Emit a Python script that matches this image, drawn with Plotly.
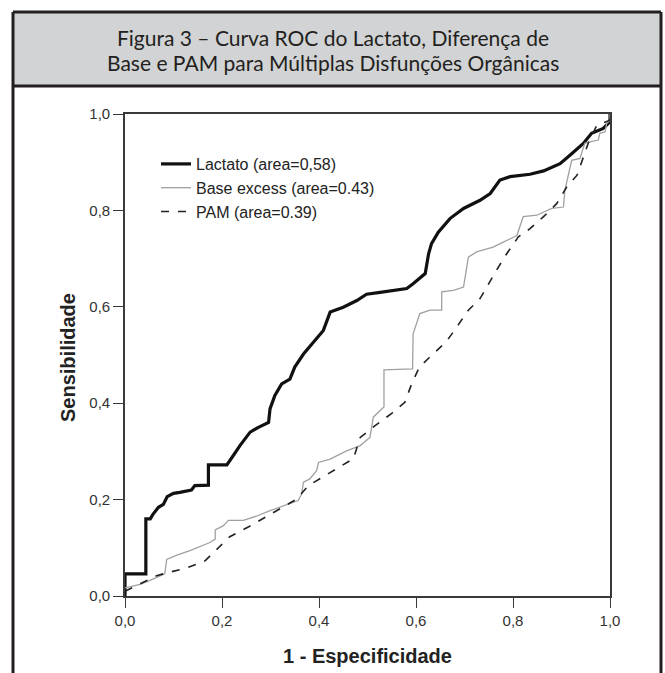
import plotly.graph_objects as go

# ---------------- data ----------------
lact_x = [0, 0, 0.043, 0.043, 0.052, 0.058, 0.069, 0.079, 0.087, 0.10, 0.113, 0.137, 0.144,
          0.172, 0.172, 0.21, 0.223, 0.237, 0.258, 0.275, 0.296, 0.299, 0.309, 0.323, 0.34,
          0.35, 0.368, 0.385, 0.409, 0.423, 0.45, 0.478, 0.498, 0.526, 0.581, 0.594, 0.619,
          0.626, 0.632, 0.646, 0.67, 0.698, 0.732, 0.753, 0.773, 0.794, 0.835, 0.863, 0.897,
          0.918, 0.945, 0.962, 0.986, 1.0, 1.0]
lact_y = [0, 0.046, 0.046, 0.16, 0.16, 0.17, 0.184, 0.19, 0.206, 0.213, 0.215, 0.22, 0.229,
          0.23, 0.272, 0.272, 0.291, 0.312, 0.34, 0.35, 0.36, 0.388, 0.416, 0.44, 0.45,
          0.475, 0.502, 0.523, 0.551, 0.589, 0.599, 0.613, 0.626, 0.63, 0.638, 0.648, 0.669,
          0.71, 0.731, 0.755, 0.783, 0.804, 0.821, 0.835, 0.863, 0.87, 0.875, 0.882, 0.897,
          0.915, 0.939, 0.96, 0.97, 0.984, 1.0]

base_x = [0, 0.017, 0.031, 0.048, 0.065, 0.082, 0.086, 0.107, 0.134, 0.155, 0.175, 0.186,
          0.186, 0.203, 0.213, 0.244, 0.272, 0.299, 0.326, 0.357, 0.364, 0.368, 0.381, 0.395,
          0.399, 0.423, 0.457, 0.485, 0.505, 0.512, 0.526, 0.534, 0.534, 0.593, 0.594, 0.608,
          0.629, 0.653, 0.653, 0.677, 0.698, 0.705, 0.708, 0.725, 0.759, 0.78, 0.808, 0.821,
          0.849, 0.88, 0.904, 0.907, 0.914, 0.921, 0.938, 0.948, 0.959, 0.976, 0.979, 0.99,
          0.993, 1.0, 1.0]
base_y = [0.017, 0.021, 0.024, 0.031, 0.038, 0.046, 0.076, 0.085, 0.094, 0.102, 0.111, 0.118,
          0.137, 0.146, 0.157, 0.157, 0.166, 0.177, 0.187, 0.198, 0.211, 0.236, 0.243, 0.26,
          0.277, 0.284, 0.301, 0.312, 0.329, 0.371, 0.385, 0.392, 0.469, 0.471, 0.544, 0.586,
          0.593, 0.593, 0.631, 0.634, 0.641, 0.683, 0.703, 0.714, 0.724, 0.734, 0.748, 0.787,
          0.79, 0.804, 0.807, 0.842, 0.87, 0.904, 0.908, 0.939, 0.942, 0.946, 0.96, 0.963,
          0.98, 0.987, 1.0]

pam_x = [0, 0.03, 0.065, 0.086, 0.127, 0.165, 0.189, 0.216, 0.254, 0.289, 0.323, 0.354,
         0.378, 0.412, 0.443, 0.471, 0.485, 0.515, 0.55, 0.577, 0.591, 0.607, 0.634, 0.662,
         0.684, 0.708, 0.732, 0.749, 0.766, 0.787, 0.811, 0.835, 0.863, 0.89, 0.911, 0.932,
         0.945, 0.956, 0.973, 1.0, 1.0]
pam_y = [0.01, 0.025, 0.042, 0.048, 0.058, 0.073, 0.097, 0.123, 0.143, 0.163, 0.184, 0.201,
         0.229, 0.249, 0.267, 0.285, 0.329, 0.353, 0.379, 0.402, 0.44, 0.475, 0.501, 0.527,
         0.558, 0.593, 0.617, 0.648, 0.676, 0.71, 0.745, 0.762, 0.787, 0.814, 0.849, 0.873,
         0.908, 0.942, 0.977, 0.987, 1.0]

names = ["Lactato (area=0,58)", "Base excess (area=0.43)", "PAM (area=0.39)"]
tick_vals = [0, 0.2, 0.4, 0.6, 0.8, 1.0]
tick_text = ["0,0", "0,2", "0,4", "0,6", "0,8", "1,0"]
title_lines = ["Figura 3 – Curva ROC do Lactato, Diferença de",
               "Base e PAM para Múltiplas Disfunções Orgânicas"]
x_title = "1 - Especificidade"
y_title = "Sensibilidade"

# ---------------- layout geometry ----------------
W, H = 665, 673
X0, X1 = 125, 610   # pixel x of data 0 and 1
Y0, Y1 = 596, 114   # pixel y of data 0 and 1


def px(x):
    return (x - X0) / (X1 - X0)


def py(y):
    return (Y0 - y) / (Y0 - Y1)


DARK = "#231f20"
AX = "#3a3a3a"

fig = go.Figure()
fig.add_trace(go.Scatter(x=lact_x, y=lact_y, mode="lines", name=names[0],
                         line=dict(color="#111111", width=3.2)))
fig.add_trace(go.Scatter(x=base_x, y=base_y, mode="lines", name=names[1],
                         line=dict(color="#a0a0a0", width=1.3)))
fig.add_trace(go.Scatter(x=pam_x, y=pam_y, mode="lines", name=names[2],
                         line=dict(color="#222222", width=1.6, dash="8px,9px")))

shapes = [
    dict(type="rect", xref="paper", yref="paper", x0=px(13), x1=px(661), y0=py(12), y1=py(86),
         fillcolor="#d1d3d4", line=dict(width=0), layer="below"),
    dict(type="line", xref="paper", yref="paper", x0=px(13), x1=px(661), y0=py(12), y1=py(12),
         line=dict(color=DARK, width=3)),
    dict(type="line", xref="paper", yref="paper", x0=px(13), x1=px(661), y0=py(86), y1=py(86),
         line=dict(color=DARK, width=3)),
    dict(type="line", xref="paper", yref="paper", x0=px(13), x1=px(13), y0=py(12), y1=py(680),
         line=dict(color=DARK, width=3)),
    dict(type="line", xref="paper", yref="paper", x0=px(661), x1=px(661), y0=py(12), y1=py(680),
         line=dict(color=DARK, width=3)),
]

annotations = [
    dict(text=title_lines[0], xref="paper", yref="paper", x=px(333), y=py(38),
         showarrow=False, font=dict(family="Lato", size=21, color=DARK),
         xanchor="center", yanchor="middle"),
    dict(text=title_lines[1], xref="paper", yref="paper", x=px(333), y=py(63),
         showarrow=False, font=dict(family="Lato", size=21, color=DARK),
         xanchor="center", yanchor="middle"),
    dict(text="<b>" + x_title + "</b>", xref="paper", yref="paper", x=px(367), y=py(656),
         showarrow=False, font=dict(family="Liberation Sans, Arial", size=20, color="#222"),
         xanchor="center", yanchor="middle"),
    dict(text="<b>" + y_title + "</b>", xref="paper", yref="paper", x=px(68), y=py(358),
         showarrow=False, textangle=-90,
         font=dict(family="Liberation Sans, Arial", size=20, color="#222"),
         xanchor="center", yanchor="middle"),
]

axis_common = dict(range=[0, 1], tickvals=tick_vals, ticktext=tick_text, showgrid=False,
                   zeroline=False, showline=True, linecolor=AX, linewidth=1.6, mirror=True,
                   ticks="outside", ticklen=10, tickwidth=1.4, tickcolor=AX,
                   tickfont=dict(family="Liberation Sans, Arial", size=15, color="#333"))

fig.update_layout(
    width=W, height=H,
    margin=dict(l=X0, r=W - X1, t=Y1, b=H - Y0, pad=0),
    paper_bgcolor="white", plot_bgcolor="white",
    xaxis=dict(**axis_common),
    yaxis=dict(**axis_common),
    shapes=shapes,
    annotations=annotations,
    showlegend=True,
    legend=dict(x=px(156), y=py(147), xanchor="left", yanchor="top",
                bgcolor="rgba(0,0,0,0)", borderwidth=0, tracegroupgap=0,
                font=dict(family="Liberation Sans, Arial", size=16, color="#222"),
                itemwidth=30),
)

fig.write_html("out.html", config={"displayModeBar": False},
               post_script="document.body.style.margin='0';document.body.style.overflow='hidden';")
